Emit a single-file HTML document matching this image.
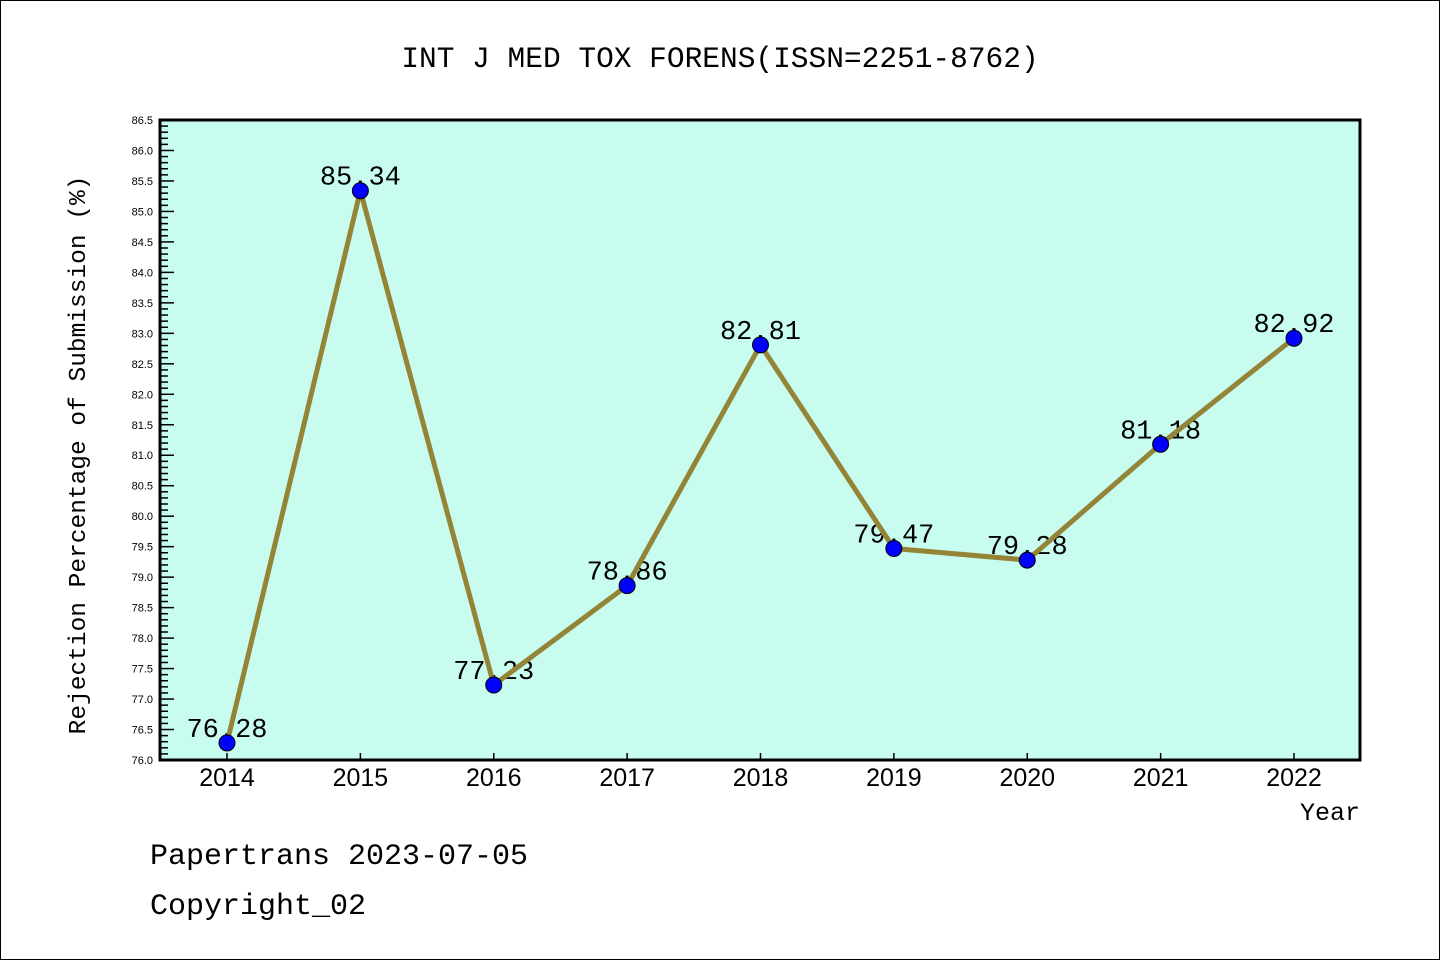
<!DOCTYPE html>
<html><head><meta charset="utf-8"><style>
html,body{margin:0;padding:0;background:#fff}
svg{display:block}
text{font-family:"Liberation Sans","DejaVu Sans",sans-serif}
text.mono{font-family:"Liberation Mono","DejaVu Sans Mono",monospace}
</style></head><body>
<svg id="chart" width="1440" height="960" xmlns="http://www.w3.org/2000/svg">
<rect x="0.5" y="0.5" width="1439" height="959" fill="#fff" stroke="#000" stroke-width="1"/>
<text class="mono" x="720" y="67" font-size="29.5" text-anchor="middle">INT J MED TOX FORENS(ISSN=2251-8762)</text>
<rect x="160" y="120" width="1200" height="640" fill="#c7fcee"/>
<g id="yticks"></g>
<g id="xticks"></g>
<g id="labels"></g>
<g id="series"></g>
<rect x="160" y="120" width="1200" height="640" fill="none" stroke="#000" stroke-width="3"/>
<text class="mono" transform="translate(85,455) rotate(-90)" font-size="24.5" text-anchor="middle">Rejection Percentage of Submission (%)</text>
<text class="mono" x="1360" y="820" font-size="25" text-anchor="end">Year</text>
<text class="mono" x="150" y="864" font-size="30">Papertrans 2023-07-05</text>
<text class="mono" x="150" y="914" font-size="30">Copyright_02</text>
</svg>
<script>
const years = ["2014","2015","2016","2017","2018","2019","2020","2021","2022"];
const values = [76.28,85.34,77.23,78.86,82.81,79.47,79.28,81.18,82.92];
const yMin = 76.0, yMax = 86.5;
const NS="http://www.w3.org/2000/svg";
const pL=160,pR=1360,pT=120,pB=760;
const x0=227,xStep=(1294-227)/8;
function xs(i){return x0+i*xStep;}
function ys(v){return pB-(v-yMin)/(yMax-yMin)*(pB-pT);}
function mk(tag,attrs,parent){const e=document.createElementNS(NS,tag);for(const k in attrs)e.setAttribute(k,attrs[k]);parent.appendChild(e);return e;}
const yg=document.getElementById('yticks');
for(let k=0;k<=105;k++){
  const v=yMin+k*0.1,y=ys(v),major=k%5===0;
  const t=mk('line',{x1:pL,x2:pL+(major?14:8),y1:y,y2:y,stroke:'#000','stroke-width':1.5},yg);
  
  
  if(major){
    const l=mk('text',{x:153,y:y+4,'font-size':11,'text-anchor':'end'},yg);
    
    
    l.textContent=v.toFixed(1);
  }
}
const xg=document.getElementById('xticks');
years.forEach((yr,i)=>{
  const x=xs(i);
  const t=mk('line',{x1:x,x2:x,y1:pB,y2:pB-7,stroke:'#000','stroke-width':1.5},xg);
  
  
  const l=mk('text',{x:x,y:786,'font-size':25,'text-anchor':'middle'},xg);
  
  
  l.textContent=yr;
});
const lg=document.getElementById('labels');
values.forEach((v,i)=>{
  const l=mk('text',{x:xs(i),y:ys(v)-6,'font-size':27,'text-anchor':'middle','class':'mono'},lg);
  
  
  l.textContent=v.toFixed(2);
});
const sg=document.getElementById('series');
const pl=mk('polyline',{points:values.map((v,i)=>xs(i)+','+ys(v)).join(' '),fill:'none',stroke:'#948437','stroke-width':5,'stroke-linejoin':'round'},sg);


values.forEach((v,i)=>{
  const c=mk('circle',{cx:xs(i),cy:ys(v),r:8,fill:'#0000ff',stroke:'#000','stroke-width':1},sg);
  
  
});
</script>
</body></html>
